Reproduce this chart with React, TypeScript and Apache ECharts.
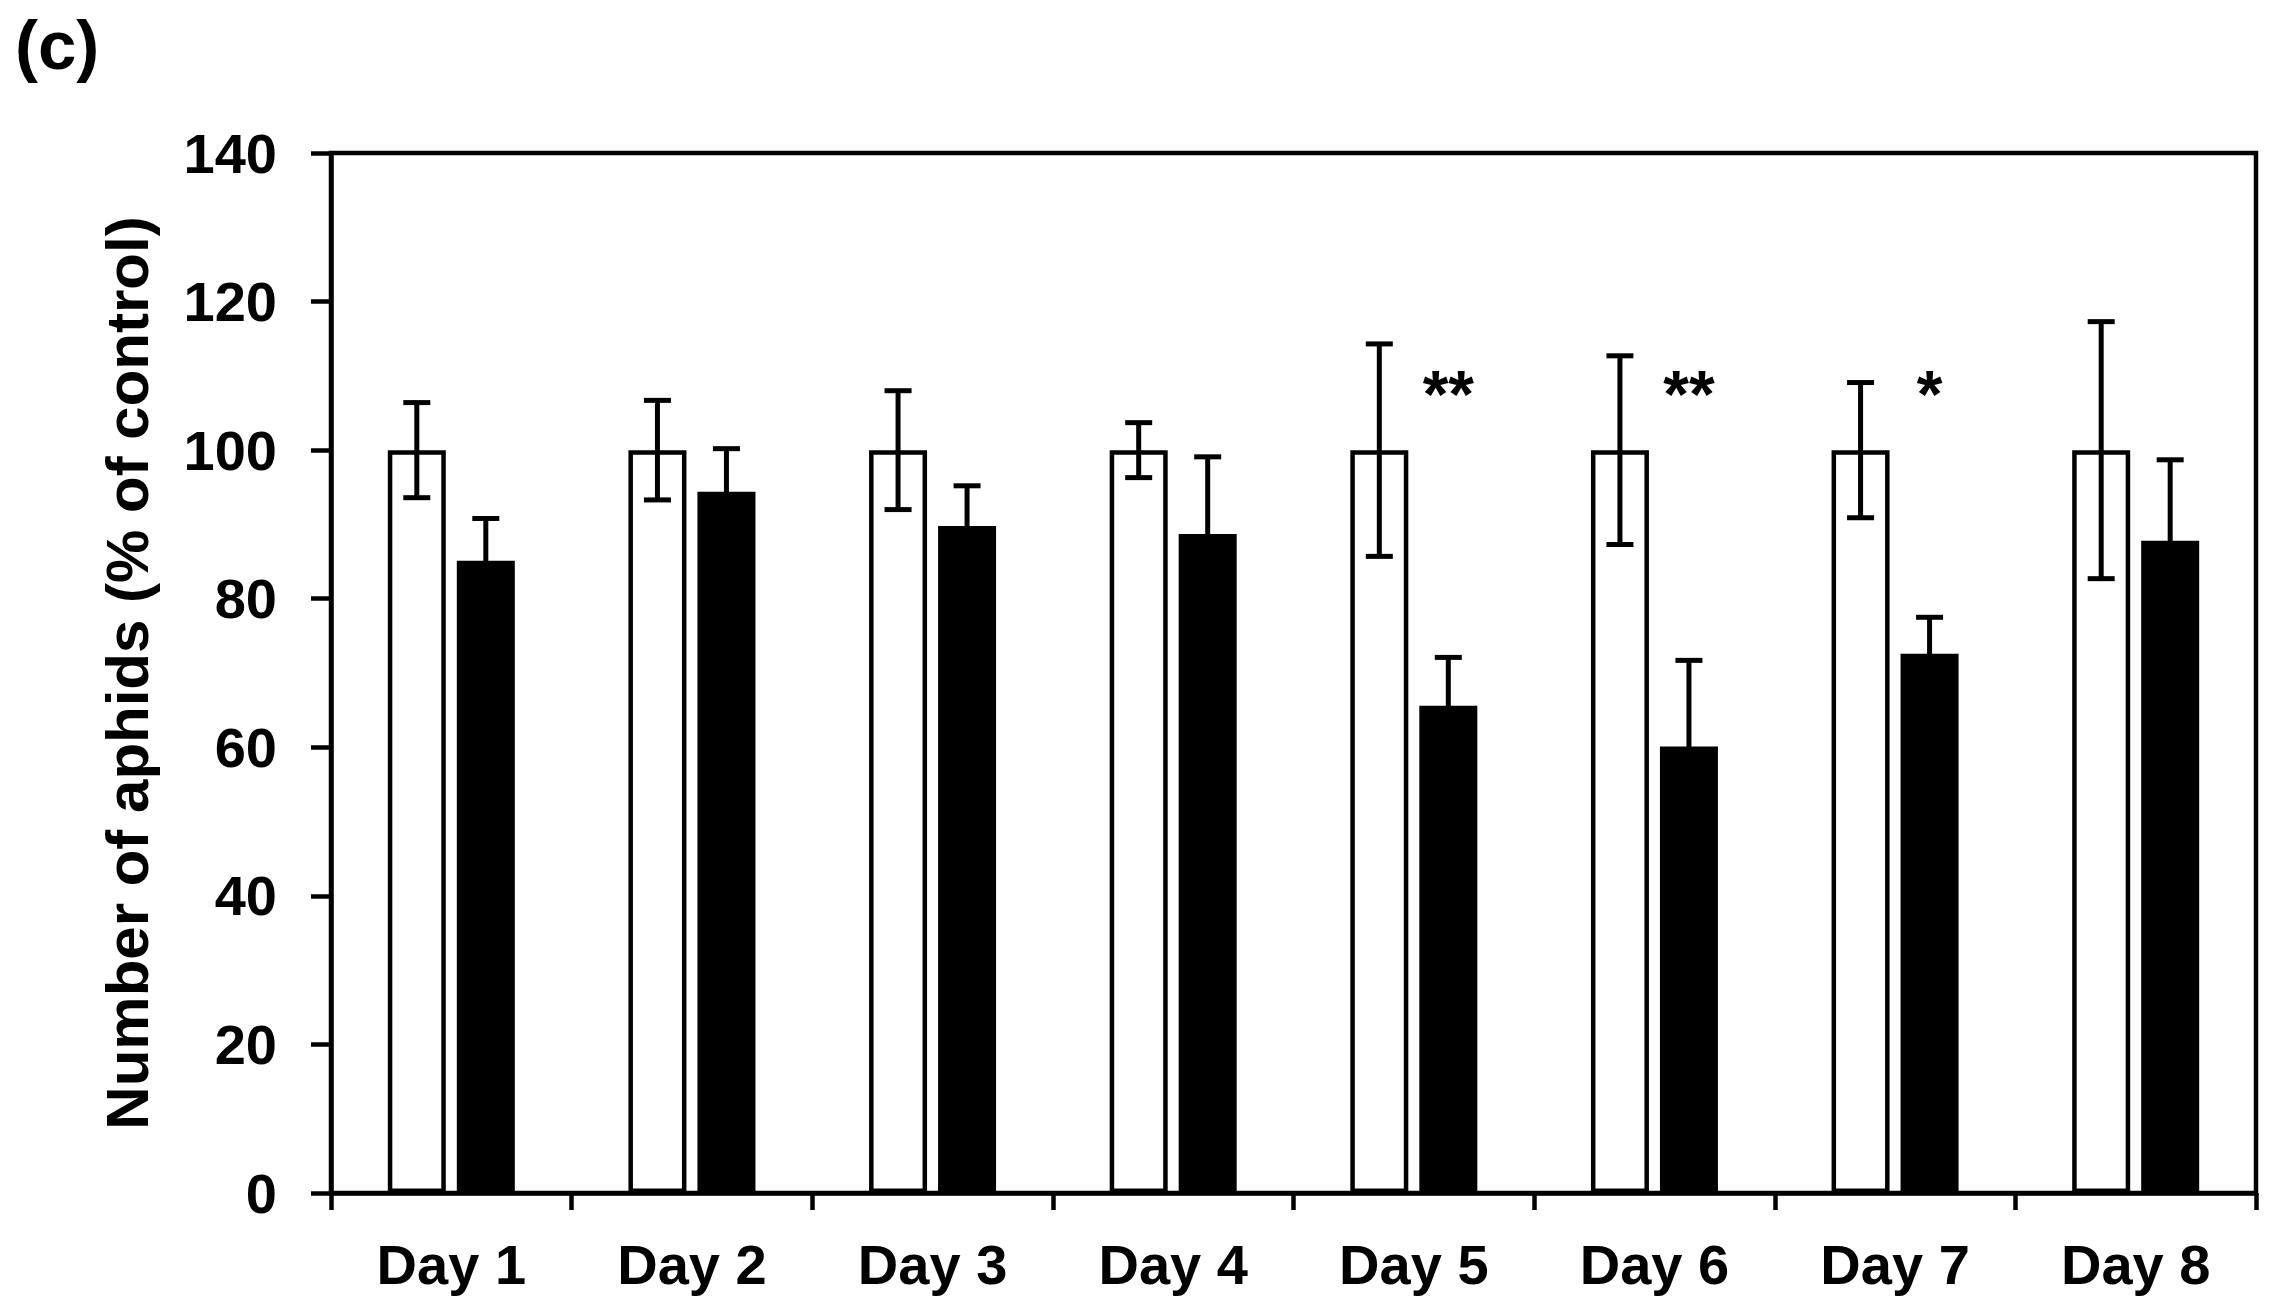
import React, { useEffect, useRef } from "react";
import * as echarts from "echarts";

const categories = ["Day 1", "Day 2", "Day 3", "Day 4", "Day 5", "Day 6", "Day 7", "Day 8"];
const controlValues = [100, 100, 100, 100, 100, 100, 100, 100];
const controlErrors = [6.4, 6.7, 8.0, 3.7, 14.3, 12.7, 9.1, 17.3];
const treatedValues = [85.1, 94.4, 89.8, 88.7, 65.6, 60.1, 72.6, 87.8];
const treatedErrors = [5.7, 5.8, 5.4, 10.4, 6.5, 11.6, 4.9, 10.9];
const significance = ["", "", "", "", "**", "**", "*", ""];
const starLevel = 107.5;
const yMin = 0;
const yMax = 140;
const yInterval = 20;

const FONT = "'Liberation Sans', Arial, Helvetica, sans-serif";
const BAR_W = 58;
const BAR_GAP_PX = 11;
const OFFSET = (BAR_W + BAR_GAP_PX) / 2;
const CAP = 27;
const LW = 4.5;

function errorSeries(values: number[], errors: number[], offset: number) {
  return {
    type: "custom",
    silent: true,
    z: 10,
    data: values.map((v, i) => [i, v, errors[i]]),
    encode: { x: 0, y: 1 },
    renderItem: (params: any, api: any) => {
      const i = api.value(0);
      const v = api.value(1);
      const e = api.value(2);
      const top = api.coord([i, v + e]);
      const bot = api.coord([i, v - e]);
      const x = top[0] + offset;
      const hw = CAP / 2;
      const st = { stroke: "#000", lineWidth: 5 };
      return {
        type: "group",
        children: [
          { type: "line", shape: { x1: x, y1: top[1], x2: x, y2: bot[1] }, style: st },
          { type: "line", shape: { x1: x - hw, y1: top[1], x2: x + hw, y2: top[1] }, style: st },
          { type: "line", shape: { x1: x - hw, y1: bot[1], x2: x + hw, y2: bot[1] }, style: st },
        ],
      };
    },
  };
}

export default function App() {
  const ref = useRef<HTMLDivElement>(null);
  useEffect(() => {
    if (!ref.current) return;
    const chart = echarts.init(ref.current, undefined, { renderer: "svg" });
    chart.setOption({
      animation: false,
      backgroundColor: "#fff",
      grid: {
        left: 331,
        right: 27,
        top: 153,
        bottom: 122,
        show: true,
        borderColor: "#000",
        borderWidth: LW,
        backgroundColor: "transparent",
      },
      graphic: [
        {
          type: "text",
          left: 15,
          top: 11,
          style: { text: "(c)", font: `bold 69px ${FONT}`, fill: "#000" },
        },
      ],
      xAxis: {
        type: "category",
        data: categories,
        axisLine: { lineStyle: { color: "#000", width: LW } },
        axisTick: { show: true, length: 17, lineStyle: { color: "#000", width: LW } },
        axisLabel: {
          margin: 43,
          color: "#000",
          fontFamily: FONT,
          fontWeight: "bold",
          fontSize: 56,
        },
        splitLine: { show: false },
      },
      yAxis: {
        type: "value",
        min: yMin,
        max: yMax,
        interval: yInterval,
        name: "Number of aphids (% of control)",
        nameLocation: "middle",
        nameGap: 174,
        nameTextStyle: {
          color: "#000",
          fontFamily: FONT,
          fontWeight: "bold",
          fontSize: 60,
        },
        axisLine: { show: true, lineStyle: { color: "#000", width: LW } },
        axisTick: { show: true, length: 20, lineStyle: { color: "#000", width: LW } },
        axisLabel: {
          margin: 54,
          color: "#000",
          fontFamily: FONT,
          fontWeight: "bold",
          fontSize: 56,
        },
        splitLine: { show: false },
      },
      series: [
        {
          type: "bar",
          data: controlValues,
          barWidth: BAR_W,
          barGap: `${(BAR_GAP_PX / BAR_W) * 100}%`,
          itemStyle: { color: "#fff", borderColor: "#000", borderWidth: LW },
          silent: true,
        },
        {
          type: "bar",
          data: treatedValues,
          barWidth: BAR_W,
          itemStyle: { color: "#000", borderColor: "#000", borderWidth: 2 },
          silent: true,
        },
        errorSeries(controlValues, controlErrors, -OFFSET),
        errorSeries(treatedValues, treatedErrors, OFFSET),
        {
          type: "custom",
          silent: true,
          z: 11,
          data: significance.map((s, i) => [i, starLevel, s]),
          encode: { x: 0, y: 1 },
          renderItem: (params: any, api: any) => {
            const idx = params.dataIndex;
            const text = significance[idx];
            if (!text) return null;
            const p = api.coord([api.value(0), api.value(1)]);
            return {
              type: "text",
              style: {
                text,
                x: p[0] + OFFSET,
                y: p[1],
                align: "center",
                verticalAlign: "middle",
                font: `bold 66px ${FONT}`,
                fill: "#000",
              },
            };
          },
        },
      ],
    });
    return () => chart.dispose();
  }, []);
  return (
    <div
      ref={ref}
      style={{ position: "fixed", left: 0, top: 0, width: 2283, height: 1315, background: "#fff" }}
    />
  );
}
